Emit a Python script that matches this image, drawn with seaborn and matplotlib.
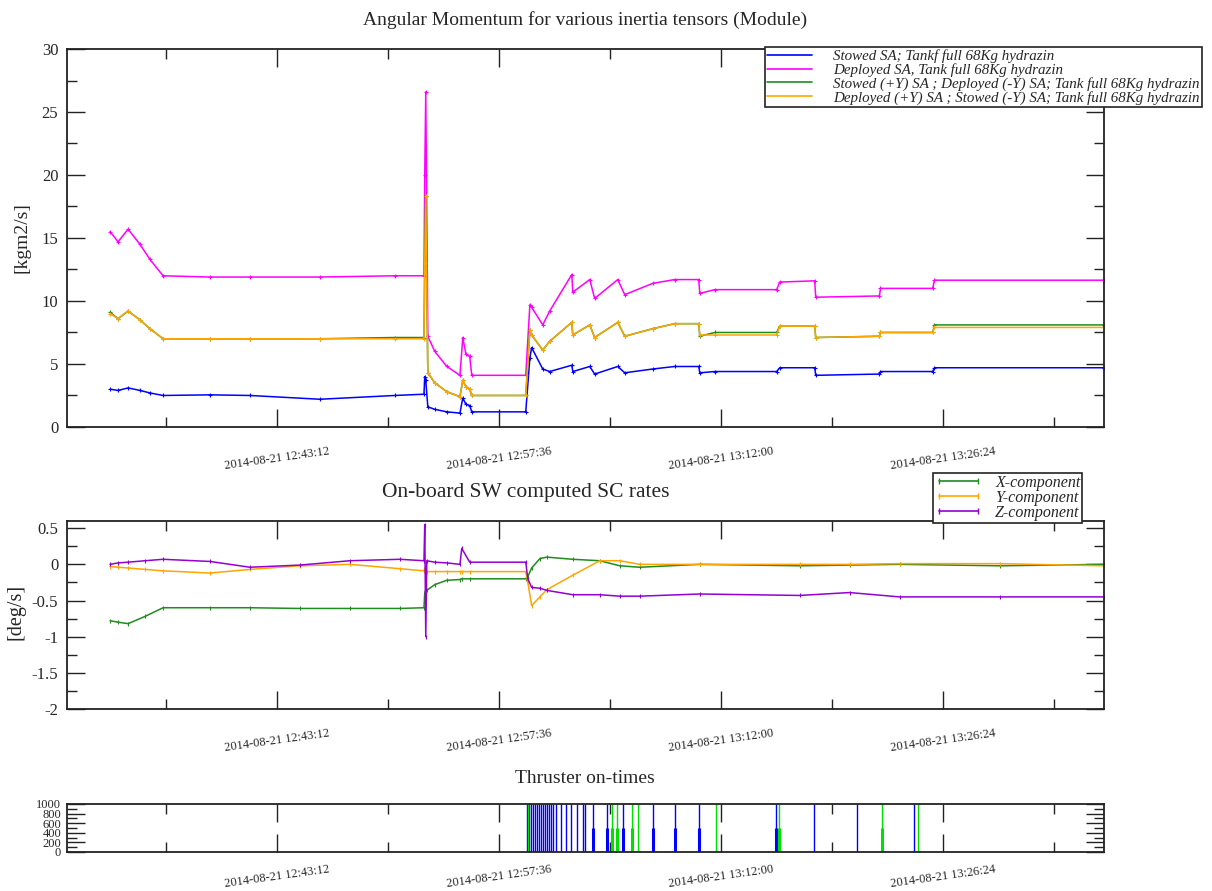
import pandas as pd
import matplotlib
matplotlib.use('Agg')
import matplotlib.pyplot as plt
import matplotlib.dates as mdates
from matplotlib.ticker import MultipleLocator, FixedLocator, FuncFormatter
from matplotlib.lines import Line2D
import seaborn as sns

DAY = '2014-08-21 '

# x axis
x_range = ['12:29:34', '13:36:50']
major_ticks = ['12:43:12', '12:57:36', '13:12:00', '13:26:24']
minor_ticks = ['12:36:00', '12:50:24', '13:04:48', '13:19:12', '13:33:36']

# --- angular momentum (all four tensors share the sample times) ---
mom_times = ['12:32:23', '12:32:54', '12:33:33', '12:34:19', '12:34:58', '12:35:49',
             '12:38:52', '12:41:27', '12:45:59', '12:50:51', '12:52:44', '12:52:47',
             '12:52:51', '12:52:59', '12:53:26', '12:54:13', '12:55:04', '12:55:15',
             '12:55:27', '12:55:42', '12:55:50', '12:59:20', '12:59:36', '12:59:43',
             '13:00:26', '13:00:53', '13:02:19', '13:02:23', '13:03:29', '13:03:48',
             '13:05:18', '13:05:45', '13:07:34', '13:08:59', '13:10:33', '13:10:37',
             '13:11:35', '13:15:36', '13:15:48', '13:18:04', '13:18:08', '13:22:16',
             '13:22:20', '13:25:43', '13:25:50', '13:36:50']
mom_stowed = [3.0, 2.9, 3.1, 2.9, 2.7, 2.5,
              2.55, 2.5, 2.2, 2.5, 2.6, 4.0,
              3.7, 1.6, 1.4, 1.2, 1.1, 2.3,
              1.8, 1.7, 1.2, 1.2, 5.5, 6.3,
              4.6, 4.4, 4.9, 4.4, 4.8, 4.2,
              4.8, 4.3, 4.6, 4.8, 4.8, 4.3,
              4.4, 4.4, 4.7, 4.7, 4.1, 4.2,
              4.4, 4.4, 4.7, 4.7]
mom_deployed = [15.5, 14.7, 15.7, 14.5, 13.3, 12.0,
                11.9, 11.9, 11.9, 12.0, 12.0, 20.0,
                26.6, 7.2, 6.0, 4.8, 4.1, 7.1,
                5.8, 5.6, 4.1, 4.1, 9.7, 9.5,
                8.1, 9.2, 12.1, 10.7, 11.7, 10.2,
                11.7, 10.5, 11.4, 11.7, 11.7, 10.6,
                10.9, 10.9, 11.5, 11.6, 10.3, 10.4,
                11.0, 11.0, 11.65, 11.65]
mom_stow_py = [9.1, 8.6, 9.2, 8.5, 7.8, 7.0,
               7.0, 7.0, 7.0, 7.1, 7.1, 13.0,
               18.3, 4.3, 3.5, 2.8, 2.4, 3.7,
               3.2, 3.0, 2.5, 2.5, 7.7, 7.3,
               6.1, 6.8, 8.3, 7.3, 8.1, 7.1,
               8.3, 7.2, 7.8, 8.2, 8.2, 7.2,
               7.5, 7.5, 8.0, 8.0, 7.1, 7.2,
               7.5, 7.5, 8.1, 8.1]
mom_depl_py = [9.0, 8.6, 9.2, 8.5, 7.8, 7.0,
               7.0, 7.0, 7.0, 7.0, 7.0, 13.0,
               18.3, 4.3, 3.5, 2.8, 2.4, 3.7,
               3.2, 3.0, 2.5, 2.5, 7.7, 7.3,
               6.1, 6.8, 8.3, 7.3, 8.1, 7.1,
               8.3, 7.2, 7.8, 8.2, 8.2, 7.3,
               7.3, 7.3, 8.0, 8.0, 7.1, 7.2,
               7.5, 7.5, 7.9, 7.9]
mom_labels = ['Stowed SA; Tankf full 68Kg hydrazin',
              'Deployed SA, Tank full 68Kg hydrazin',
              'Stowed (+Y) SA ; Deployed (-Y) SA; Tank full 68Kg hydrazin',
              'Deployed (+Y) SA ; Stowed (-Y) SA; Tank full 68Kg hydrazin']

# --- SC rates ---
rate_times = ['12:32:23', '12:32:54', '12:33:33', '12:34:39', '12:35:49', '12:38:52',
              '12:41:27', '12:44:41', '12:47:56', '12:51:10', '12:52:44', '12:52:47',
              '12:52:51', '12:52:55', '12:53:26', '12:54:13', '12:55:04', '12:55:11',
              '12:55:42', '12:59:20', '12:59:28', '12:59:43', '13:00:15', '13:00:42',
              '13:02:23', '13:04:08', '13:05:26', '13:06:43', '13:10:37', '13:17:05',
              '13:20:20', '13:23:34', '13:30:03', '13:36:50']
rate_x = [-0.78, -0.80, -0.82, -0.72, -0.60, -0.60,
          -0.60, -0.61, -0.61, -0.61, -0.60, -0.40,
          -0.35, -0.36, -0.28, -0.22, -0.21, -0.20,
          -0.20, -0.20, -0.17, -0.05, 0.08, 0.10,
          0.07, 0.05, -0.02, -0.04, 0.0, -0.02,
          -0.01, 0.0, -0.02, 0.0]
rate_y = [-0.03, -0.04, -0.05, -0.07, -0.09, -0.12,
          -0.07, -0.02, 0.0, -0.06, -0.09, -0.05,
          -0.08, -0.10, -0.10, -0.10, -0.10, -0.10,
          -0.10, -0.10, -0.25, -0.57, -0.45, -0.35,
          -0.15, 0.05, 0.05, 0.0, 0.0, 0.0,
          0.0, 0.01, 0.01, -0.02]
rate_z = [0.0, 0.02, 0.03, 0.05, 0.07, 0.04,
          -0.04, -0.01, 0.05, 0.07, 0.05, 0.55,
          -1.0, 0.05, 0.03, 0.02, 0.0, 0.22,
          0.03, 0.03, -0.20, -0.32, -0.33, -0.36,
          -0.42, -0.42, -0.44, -0.44, -0.41, -0.43,
          -0.39, -0.45, -0.45, -0.45]
rate_labels = ['X-component', 'Y-component', 'Z-component']

# --- thruster on-times ---
blue_on_t = ['12:59:24', '12:59:32', '12:59:40', '12:59:47', '12:59:55', '13:00:03',
             '13:00:11', '13:00:18', '13:00:26', '13:00:34', '13:00:42', '13:00:50',
             '13:00:57', '13:01:05', '13:01:17', '13:01:36', '13:01:56', '13:02:15',
             '13:02:38', '13:03:02', '13:03:10', '13:03:41', '13:04:35', '13:05:37',
             '13:07:34', '13:08:59', '13:10:33', '13:15:32', '13:18:00', '13:20:47',
             '13:24:29']
blue_on_h = [1000] * 31
blue_half_t = ['13:03:41', '13:04:35', '13:05:37', '13:07:34', '13:08:59', '13:10:33', '13:15:32']
blue_half_h = [500, 500, 500, 500, 500, 500, 500]
green_on_t = ['12:59:28', '13:04:54', '13:05:14', '13:06:12', '13:06:36', '13:11:39',
              '13:15:44', '13:22:24', '13:24:44']
green_on_h = [1000, 1000, 1000, 1000, 1000, 1000, 1000, 1000, 1000]
green_half_t = ['13:04:54', '13:05:14', '13:06:12', '13:15:44', '13:22:24']
green_half_h = [500, 500, 500, 500, 500]


def to_dt(times):
    return pd.to_datetime([DAY + t for t in times])


sns.set_style('ticks')
plt.rcParams['font.family'] = ['Liberation Serif', 'DejaVu Serif']
plt.rcParams['axes.unicode_minus'] = False

fig = plt.figure(figsize=(12.12, 8.91), dpi=100)
ax1 = fig.add_axes([0.055, 0.5208, 0.856, 0.4242])
ax2 = fig.add_axes([0.055, 0.2043, 0.856, 0.2110])
ax3 = fig.add_axes([0.055, 0.0438, 0.856, 0.0539])

# panel 1
t1 = to_dt(mom_times)
mom_series = [(mom_stowed, '#0000ff'), (mom_deployed, '#ff00ff'),
              (mom_stow_py, '#1e8c1e'), (mom_depl_py, '#ffa500')]
for vals, col in mom_series:
    sns.lineplot(x=t1, y=vals, ax=ax1, color=col, lw=1.1, estimator=None, sort=False,
                 marker='+', markersize=3, markeredgewidth=0.8, markeredgecolor=col)
ax1.set_ylim(0, 30)
ax1.yaxis.set_major_locator(MultipleLocator(5))
ax1.yaxis.set_minor_locator(MultipleLocator(2.5))

# panel 2
t2 = to_dt(rate_times)
rate_series = [(rate_x, '#1e8c1e'), (rate_y, '#ffa500'), (rate_z, '#9400d3')]
for vals, col in rate_series:
    sns.lineplot(x=t2, y=vals, ax=ax2, color=col, lw=1.1, estimator=None, sort=False,
                 marker='|', markersize=3, markeredgewidth=0.8, markeredgecolor=col)
ax2.set_ylim(-2, 0.6)
ax2.yaxis.set_major_locator(MultipleLocator(0.5))
ax2.yaxis.set_minor_locator(MultipleLocator(0.25))
ax2.yaxis.set_major_formatter(FuncFormatter(lambda v, p: '%g' % v))

# panel 3
ax3.vlines(to_dt(blue_on_t), 0, blue_on_h, colors='#0000ff', lw=1.0)
ax3.vlines(to_dt(blue_half_t), 0, blue_half_h, colors='#0000ff', lw=2.2)
ax3.vlines(to_dt(green_on_t), 0, green_on_h, colors='#00e000', lw=1.0)
ax3.vlines(to_dt(green_half_t), 0, green_half_h, colors='#00e000', lw=2.2)
ax3.set_ylim(0, 1000)
ax3.yaxis.set_major_locator(MultipleLocator(200))
ax3.yaxis.set_minor_locator(MultipleLocator(100))

xl = to_dt(x_range)
maj = mdates.date2num(to_dt(major_ticks))
mnr = mdates.date2num(to_dt(minor_ticks))
for ax in (ax1, ax2, ax3):
    ax.set_xlim(xl[0], xl[1])
    ax.xaxis.set_major_locator(FixedLocator(maj))
    ax.xaxis.set_minor_locator(FixedLocator(mnr))
    ax.set_xticklabels([DAY + t for t in major_ticks])
    ax.tick_params(which='major', direction='in', length=13, width=1.0,
                   top=True, right=True, color='#222222')
    ax.tick_params(which='minor', direction='in', length=7, width=1.0,
                   top=True, right=True, color='#222222')
    ax.tick_params(axis='x', labelsize=9, labelrotation=8, pad=13)
    ax.tick_params(axis='y', labelsize=12, pad=6)
    for lab in ax.get_xticklabels():
        lab.set_ha('center')
    for sp in ax.spines.values():
        sp.set_visible(True)
        sp.set_linewidth(1.3)
        sp.set_color('#222222')
    ax.set_xlabel('')
    ax.set_ylabel('')
ax3.tick_params(axis='y', labelsize=9, pad=4)
ax3.tick_params(axis='x', pad=8)

# titles and axis labels
fig.text(0.4827, 0.9776, 'Angular Momentum for various inertia tensors (Module)',
         ha='center', va='center', fontsize=14)
fig.text(0.434, 0.4467, 'On-board SW computed SC rates', ha='center', va='center', fontsize=15.5)
fig.text(0.4827, 0.1268, 'Thruster on-times', ha='center', va='center', fontsize=14)
fig.text(22 / 1212, 1 - 238 / 891, '[kgm2/s]', rotation=90, ha='center', va='center', fontsize=14)
fig.text(16 / 1212, 1 - 612 / 891, '[deg/s]', rotation=90, ha='center', va='center', fontsize=14.5)

# legends
h1 = [Line2D([], [], color=c, lw=1.2) for _, c in mom_series]
leg1 = fig.legend(h1, mom_labels, loc='upper left', bbox_to_anchor=(765 / 1212, 1 - 47 / 891),
                  prop={'style': 'italic', 'size': 10.8}, fancybox=False, edgecolor='#222222',
                  framealpha=1, borderpad=0.15, labelspacing=0.0, handlelength=3.0,
                  handletextpad=1.4, borderaxespad=0)
leg1.get_frame().set_linewidth(1.2)

h2 = [Line2D([], [], color=c, lw=1.2, marker='|', markersize=4) for _, c in rate_series]
leg2 = fig.legend(h2, rate_labels, loc='upper left', bbox_to_anchor=(933 / 1212, 1 - 473 / 891),
                  prop={'style': 'italic', 'size': 11.5}, fancybox=False, edgecolor='#222222',
                  framealpha=1, borderpad=0.1, labelspacing=-0.05, handlelength=3.0,
                  handletextpad=0.8, borderaxespad=0, numpoints=2)
leg2.get_frame().set_linewidth(1.2)

fig.savefig('out.png', dpi=100)
